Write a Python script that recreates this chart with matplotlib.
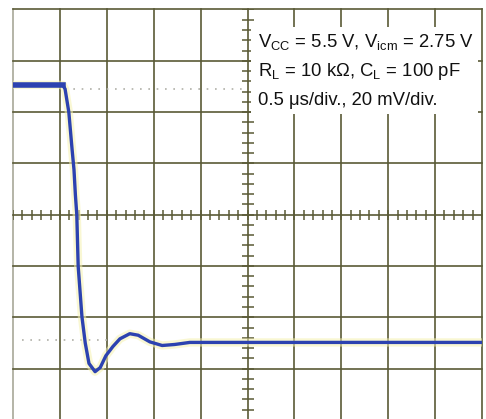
import matplotlib
matplotlib.use("Agg")
import matplotlib.pyplot as plt
import numpy as np
from matplotlib.patches import Rectangle

plt.rcParams['font.family'] = ['Liberation Sans', 'DejaVu Sans']
plt.rcParams['mathtext.default'] = 'regular'

# scope trace, time in us (0.5 us/div), voltage in mV (20 mV/div)
time_us = [0.0, 0.53, 0.555, 0.595, 0.63, 0.65, 0.665, 0.68, 0.695, 0.735,
           0.77, 0.81, 0.875, 0.93, 0.99, 1.065, 1.14, 1.245, 1.335, 1.46,
           1.59, 1.725, 1.885, 2.315, 5.0]
volt_mv = [50.6, 50.6, 49.0, 40.0, 25.4, 17.6, 7.8, 0.0, -20.2, -39.8,
           -50.0, -58.0, -61.2, -59.6, -55.0, -51.4, -48.4, -46.4, -47.0, -49.6,
           -51.0, -50.6, -49.8, -49.8, -49.8]

ref_hi = 49.0   # faint dotted reference marks on the screen
ref_lo = -49.0

lines = [r"$V_{CC}$ = 5.5 V, $V_{icm}$ = 2.75 V",
         r"$R_L$ = 10 k$\Omega$, $C_L$ = 100 pF",
         "0.5 \u03bcs/div., 20 mV/div."]

us_per_div = 0.5
mv_per_div = 20.0

fig = plt.figure(figsize=(4.86, 4.19), dpi=100)
ax = fig.add_axes([13 / 486, -0.0021, 469 / 486, 0.9795])
ax.set_xlim(0, 10 * us_per_div)
ax.set_ylim(-4 * mv_per_div, 4 * mv_per_div)

grid_col = '#5a5a36'
for i in range(11):
    col = '#a8a898' if i == 0 else grid_col
    ax.axvline(i * us_per_div, color=col, lw=1.2, zorder=1, clip_on=False)
for j in range(-4, 5):
    ax.axhline(j * mv_per_div, color=grid_col, lw=1.2, zorder=1, clip_on=False)

# minor ticks on the centre cross
xt = np.arange(0, 10.01, 0.2) * us_per_div
yt = np.arange(-4, 4.01, 0.2) * mv_per_div
ax.plot(xt, np.zeros_like(xt), ls='none', marker='|', ms=7, mew=1.1, color=grid_col, zorder=1)
ax.plot(np.full_like(yt, 5 * us_per_div), yt, ls='none', marker='_', ms=8, mew=1.1, color=grid_col, zorder=1)

# faint dotted reference marks
ax.plot([0.55, 2.45], [ref_hi, ref_hi], ls=(0, (1, 4)), lw=1.2, color='#b0b0a8', zorder=2)
ax.plot([0.1, 1.0], [ref_lo, ref_lo], ls=(0, (1, 4)), lw=1.2, color='#b0b0a8', zorder=2)

# trace with yellow glow
ax.plot(time_us, volt_mv, color='#f5f2b0', lw=6, alpha=0.55, zorder=3, solid_capstyle='butt')
ax.plot(time_us, volt_mv, color='#2c42b0', lw=2.4, zorder=4)
ax.plot(time_us[:2], volt_mv[:2], color='#2c42b0', lw=4, zorder=4)

# white label box
ax.add_patch(Rectangle((5.08 * us_per_div, 1.97 * mv_per_div), 4.83 * us_per_div, 1.68 * mv_per_div,
                       facecolor='white', edgecolor='none', zorder=5))
for k, txt in enumerate(lines):
    ax.text(5.22 * us_per_div, (3.27 - 0.565 * k) * mv_per_div, txt, fontsize=13.3,
            va='baseline', ha='left', color='#111111', zorder=6)

for s in ax.spines.values():
    s.set_visible(False)
ax.set_xticks([])
ax.set_yticks([])

fig.savefig('out.png', dpi=100, facecolor='white')
